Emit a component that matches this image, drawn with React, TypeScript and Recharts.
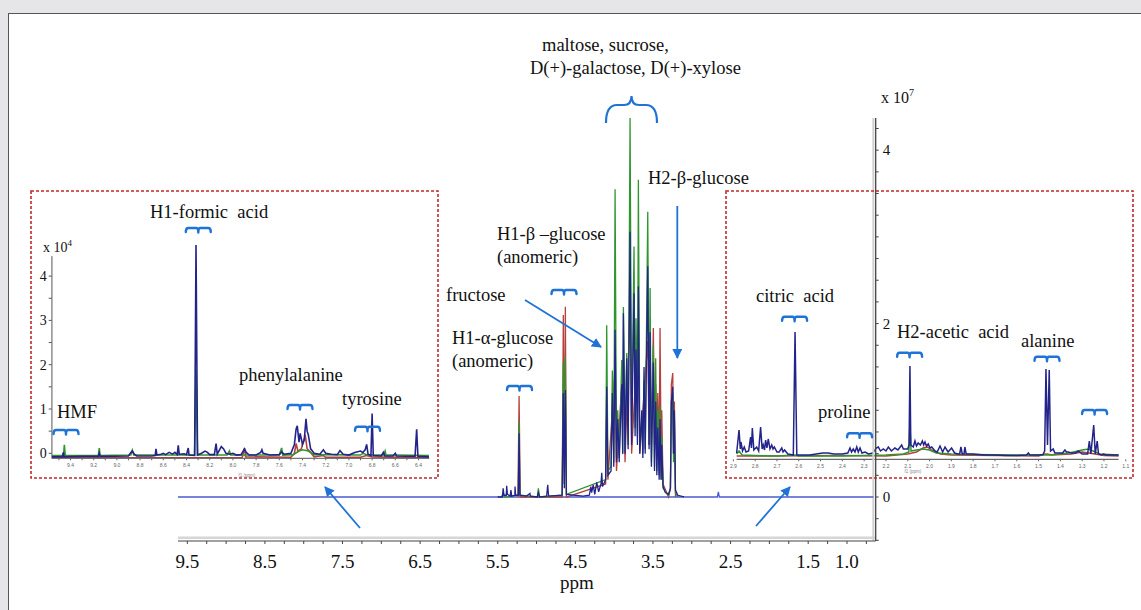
import React from "react";
import { LineChart, Line, XAxis, YAxis, ReferenceLine } from "recharts";

type Pt = [number, number];

// main spectrum: [ppm, intensity x 10^7]
const mainBaseline: Pt[] = [
  [9.62, 0], [5.5, 0], [3.1, 0], [2.67, 0], [2.657, 0.06], [2.645, 0], [0.66, 0],
];

const mainRed: Pt[] = [
  [5.24, 0], [5.225, 1.165], [5.21, 0], [4.67, 0], [4.655, 2.1], [4.642, 0.15], [4.629, 2.195],
  [4.615, 0], [4.11, 0.15], [4.096, 1.0], [4.08, 0.2], [3.988, 1.5], [3.97, 0.3], [3.881, 1.6],
  [3.86, 0.4], [3.795, 2.2], [3.775, 0.5], [3.688, 2.0], [3.67, 0.5], [3.567, 1.8], [3.55, 0.6],
  [3.537, 1.5], [3.52, 0.6], [3.495, 1.95], [3.48, 0.6], [3.465, 1.3], [3.45, 0.5], [3.438, 1.2],
  [3.42, 0.55], [3.409, 1.95], [3.395, 0.5], [3.387, 1.0], [3.37, 0.15], [3.3, 0], [3.275, 0.1],
  [3.263, 1.3], [3.245, 1.43], [3.235, 0.5], [3.224, 1.1], [3.21, 0],
];

const mainGreen: Pt[] = [
  [5.45, 0], [5.43, 0.05], [5.41, 0], [5.235, 0.02], [5.225, 0.87], [5.215, 0.02], [4.99, 0],
  [4.977, 0.1], [4.96, 0], [4.67, 0.02], [4.655, 1.55], [4.642, 0.15], [4.629, 1.62], [4.615, 0.03],
  [4.11, 0.2], [4.096, 1.98], [4.08, 0.3], [4.04, 0.35], [4.023, 1.46], [4.005, 0.4], [3.988, 3.55],
  [3.97, 0.45], [3.954, 1.0], [3.935, 0.45], [3.902, 1.58], [3.89, 0.5], [3.881, 2.19], [3.86, 0.55],
  [3.838, 1.66], [3.82, 0.6], [3.795, 4.37], [3.775, 0.7], [3.744, 2.89], [3.73, 0.8], [3.718, 2.06],
  [3.7, 0.7], [3.688, 3.66], [3.67, 0.6], [3.644, 0.9], [3.63, 0.5], [3.615, 1.35], [3.6, 0.55],
  [3.567, 3.29], [3.55, 0.6], [3.537, 2.41], [3.52, 0.4], [3.495, 1.75], [3.48, 0.35], [3.465, 1.6],
  [3.45, 0.3], [3.438, 1.0], [3.42, 0.25], [3.409, 1.05], [3.395, 0.2], [3.387, 0.7], [3.37, 0.1],
  [3.3, 0.02], [3.275, 0.1], [3.263, 1.1], [3.245, 1.2], [3.235, 0.4], [3.224, 0.9], [3.21, 0.05],
  [3.18, 0],
];

const mainNavy: Pt[] = [
  [5.5, 0], [5.44, 0], [5.43, 0.1], [5.42, 0.02], [5.39, 0.02], [5.385, 0.13], [5.375, 0.03],
  [5.34, 0.01], [5.33, 0.08], [5.32, 0.01], [5.28, 0.02], [5.277, 0.12], [5.27, 0.02], [5.235, 0.02],
  [5.225, 0.735], [5.215, 0.02], [5.13, 0.01], [5.085, 0.04], [5.08, 0.01], [4.99, 0], [4.977, 0.05],
  [4.96, 0], [4.87, 0.01], [4.856, 0.14], [4.845, 0.01], [4.67, 0.02], [4.655, 1.2], [4.642, 0.1],
  [4.629, 1.235], [4.615, 0.03], [4.4, 0.01], [4.32, 0.02], [4.3, 0.12], [4.29, 0.05], [4.27, 0.14],
  [4.25, 0.03], [4.224, 0.17], [4.2, 0.06], [4.17, 0.15], [4.16, 0.28], [4.15, 0.12], [4.11, 0.2],
  [4.096, 1.27], [4.08, 0.25], [4.04, 0.3], [4.023, 1.2], [4.005, 0.35], [3.988, 1.93], [3.97, 0.4],
  [3.954, 0.9], [3.935, 0.4], [3.902, 1.3], [3.89, 0.5], [3.881, 2.12], [3.86, 0.5], [3.838, 1.6],
  [3.82, 0.55], [3.795, 3.06], [3.775, 0.6], [3.744, 2.35], [3.73, 0.7], [3.718, 1.7], [3.7, 0.6],
  [3.688, 2.43], [3.67, 0.5], [3.644, 1.0], [3.63, 0.45], [3.615, 1.5], [3.6, 0.5], [3.567, 2.66],
  [3.55, 0.55], [3.537, 1.9], [3.52, 0.35], [3.495, 1.55], [3.48, 0.3], [3.465, 1.1], [3.45, 0.25],
  [3.438, 0.8], [3.42, 0.2], [3.409, 0.9], [3.395, 0.2], [3.387, 0.6], [3.37, 0.12], [3.34, 0.05],
  [3.3, 0.03], [3.275, 0.1], [3.263, 1.1], [3.245, 1.27], [3.235, 0.5], [3.224, 1.0], [3.21, 0.08],
  [3.18, 0.02], [3.1, 0],
];

const mainXTicks = [
  9.5, 9.25, 9.0, 8.75, 8.5, 8.25, 8.0, 7.75, 7.5, 7.25, 7.0, 6.75, 6.5, 6.25, 6.0, 5.75, 5.5,
  5.25, 5.0, 4.75, 4.5, 4.25, 4.0, 3.75, 3.5, 3.25, 3.0, 2.75, 2.5, 2.25, 2.0, 1.75, 1.5, 1.25,
  1.0, 0.75,
];
const mainXLabels = [9.5, 8.5, 7.5, 6.5, 5.5, 4.5, 3.5, 2.5, 1.5, 1.0];
const mainYTicks = [
  -0.5, -0.25, 0, 0.25, 0.5, 0.75, 1, 1.25, 1.5, 1.75, 2, 2.25, 2.5, 2.75, 3, 3.25, 3.5, 3.75, 4,
  4.25,
];
const mainYLabels = [0, 2, 4];

// left inset (9.5 - 6.3 ppm): intensity x 10^4
const leftNavy: Pt[] = [
  [9.56, -0.08], [9.47, -0.08], [9.462, 0.02], [9.455, -0.08], [9.3, -0.07], [9.16, -0.07],
  [9.152, 0.0], [9.145, -0.07], [8.9, -0.06], [8.88, 0.02], [8.867, 0.05], [8.85, -0.02],
  [8.83, -0.06], [8.7, -0.06], [8.67, -0.05], [8.663, 0.1], [8.655, -0.04], [8.62, -0.02],
  [8.6, 0.0], [8.58, -0.03], [8.55, 0.02], [8.52, -0.02], [8.5, 0.02], [8.48, -0.03], [8.471, 0.18],
  [8.463, -0.02], [8.42, -0.01], [8.4, -0.03], [8.385, 0.12], [8.378, -0.04], [8.33, -0.05],
  [8.318, 4.7], [8.305, -0.04], [8.27, 0.0], [8.24, 0.05], [8.22, 0.02], [8.2, -0.03], [8.16, -0.03],
  [8.145, 0.22], [8.135, -0.02], [8.1, 0.15], [8.08, 0.1], [8.06, 0.0], [8.03, -0.02], [8.0, 0.0],
  [7.97, -0.04], [7.93, -0.03], [7.9, 0.1], [7.885, 0.02], [7.86, -0.04], [7.8, -0.04], [7.76, 0.02],
  [7.75, 0.08], [7.74, 0.0], [7.68, -0.04], [7.6, -0.03], [7.58, 0.03], [7.56, -0.02], [7.5, 0.0],
  [7.47, 0.2], [7.455, 0.55], [7.445, 0.62], [7.43, 0.25], [7.42, 0.45], [7.4, 0.2], [7.385, 0.3],
  [7.37, 0.78], [7.36, 0.5], [7.35, 0.42], [7.33, 0.1], [7.3, 0.0], [7.25, -0.02], [7.22, 0.08],
  [7.2, 0.0], [7.15, -0.02], [7.1, -0.03], [7.077, 0.06], [7.05, -0.02], [7.0, -0.04], [6.95, 0.02],
  [6.9, 0.05], [6.88, 0.02], [6.86, 0.08], [6.847, 0.2], [6.835, -0.02], [6.81, -0.05], [6.8, 0.9],
  [6.79, -0.05], [6.72, -0.06], [6.703, 0.02], [6.69, -0.06], [6.62, -0.06], [6.6, 0.0],
  [6.59, -0.06], [6.43, -0.07], [6.416, 0.54], [6.405, -0.07], [6.31, -0.08],
];

const leftGreen: Pt[] = [
  [9.56, -0.05], [9.46, -0.05], [9.453, 0.19], [9.445, -0.05], [9.16, -0.05], [9.152, 0.12],
  [9.145, -0.05], [8.88, -0.04], [8.867, 0.07], [8.855, -0.04], [8.33, -0.04], [8.318, 1.88],
  [8.305, -0.04], [8.05, -0.04], [8.03, 0.05], [8.02, -0.04], [7.6, -0.04], [7.58, 0.12],
  [7.57, -0.04], [7.48, -0.03], [7.43, 0.05], [7.4, 0.08], [7.35, 0.05], [7.3, -0.03], [6.9, -0.04],
  [6.88, 0.0], [6.84, -0.04], [6.7, -0.04], [6.688, 0.05], [6.68, -0.04], [6.6, -0.04], [6.31, -0.05],
];

const leftRed: Pt[] = [
  [9.56, -0.1], [7.92, -0.1], [7.9, 0.12], [7.89, -0.08], [7.5, -0.09], [7.47, 0.0], [7.455, 0.22],
  [7.44, 0.05], [7.41, 0.1], [7.39, 0.3], [7.375, 0.38], [7.36, 0.1], [7.34, 0.05], [7.3, -0.08],
  [7.22, -0.05], [7.2, -0.09], [6.9, -0.09], [6.85, -0.05], [6.8, -0.08], [6.31, -0.1],
];

const leftXTicks = [
  9.5, 9.4, 9.3, 9.2, 9.1, 9.0, 8.9, 8.8, 8.7, 8.6, 8.5, 8.4, 8.3, 8.2, 8.1, 8.0, 7.9, 7.8, 7.7,
  7.6, 7.5, 7.4, 7.3, 7.2, 7.1, 7.0, 6.9, 6.8, 6.7, 6.6, 6.5, 6.4,
];
const leftXLabels = [9.4, 9.2, 9.0, 8.8, 8.6, 8.4, 8.2, 8.0, 7.8, 7.6, 7.4, 7.2, 7.0, 6.8, 6.6, 6.4];
const leftYTicks = [0, 0.5, 1, 1.5, 2, 2.5, 3, 3.5, 4];
const leftYLabels = [0, 1, 2, 3, 4];

// right inset (2.9 - 1.1 ppm): relative intensity
const rightNavy: Pt[] = [
  [2.885, 0.4], [2.874, 2.7], [2.868, 0.8], [2.865, 1.5], [2.858, 0.6], [2.85, 1.0], [2.842, 0.5],
  [2.83, 0.6], [2.821, 2.0], [2.817, 0.9], [2.813, 2.9], [2.806, 0.7], [2.793, 1.0], [2.784, 0.6],
  [2.775, 3.0], [2.768, 0.8], [2.763, 1.2], [2.757, 0.7], [2.752, 1.7], [2.746, 0.9], [2.74, 1.8],
  [2.732, 0.8], [2.724, 1.2], [2.718, 0.8], [2.712, 1.0], [2.7, 0.5], [2.69, 0.5], [2.678, 0.9],
  [2.672, 0.5], [2.665, 0.7], [2.65, 0.3], [2.625, 0.2], [2.617, 12.5], [2.609, 0.2], [2.58, 0.2],
  [2.55, 0.2], [2.52, 0.3], [2.49, 0.4], [2.465, 0.4], [2.44, 0.3], [2.4, 0.3], [2.375, 0.4],
  [2.365, 0.9], [2.358, 0.5], [2.35, 0.8], [2.342, 0.5], [2.334, 1.0], [2.327, 0.5], [2.319, 0.9],
  [2.31, 0.4], [2.296, 0.5], [2.28, 0.3], [2.26, 0.4], [2.245, 0.9], [2.235, 1.0], [2.225, 0.6],
  [2.212, 0.8], [2.2, 0.6], [2.189, 1.0], [2.175, 0.6], [2.159, 0.9], [2.145, 0.7], [2.128, 1.2],
  [2.12, 0.8], [2.113, 0.8], [2.1, 0.8], [2.094, 1.2], [2.09, 9.1], [2.086, 1.2], [2.075, 1.0],
  [2.067, 1.6], [2.06, 1.1], [2.052, 1.4], [2.042, 1.2], [2.033, 1.6], [2.027, 1.2], [2.021, 1.5],
  [2.014, 1.1], [2.006, 1.3], [1.998, 0.9], [1.99, 1.0], [1.975, 0.6], [1.965, 0.5], [1.952, 1.1],
  [1.94, 0.5], [1.929, 1.0], [1.915, 0.5], [1.899, 0.9], [1.885, 0.4], [1.87, 0.3], [1.862, 0.3],
  [1.856, 1.0], [1.85, 0.3], [1.842, 0.3], [1.838, 1.0], [1.832, 0.3], [1.8, 0.3], [1.75, 0.2],
  [1.7, 0.2], [1.65, 0.15], [1.6, 0.15], [1.555, 0.2], [1.547, 0.4], [1.54, 0.2], [1.5, 0.2],
  [1.48, 0.25], [1.472, 0.6], [1.466, 8.8], [1.459, 1.2], [1.451, 8.7], [1.445, 0.6], [1.433, 0.8],
  [1.425, 0.4], [1.39, 0.4], [1.379, 0.7], [1.372, 0.5], [1.364, 0.5], [1.35, 0.4], [1.341, 0.4],
  [1.33, 0.4], [1.318, 0.6], [1.3, 0.3], [1.275, 0.3], [1.267, 1.6], [1.26, 0.3], [1.247, 3.2],
  [1.24, 0.3], [1.231, 1.6], [1.225, 0.3], [1.21, 0.2], [1.203, 0.3], [1.19, 0.2], [1.133, 0.2],
];

const rightGreen: Pt[] = [
  [2.885, 0.3], [2.874, 0.6], [2.86, 0.2], [2.8, 0.15], [2.7, 0.1], [2.617, 0.2], [2.6, 0.1],
  [2.4, 0.1], [2.3, 0.15], [2.2, 0.2], [2.12, 0.3], [2.095, 0.5], [2.09, 3.4], [2.085, 0.6],
  [2.06, 0.7], [2.03, 0.8], [2.0, 0.7], [1.97, 0.4], [1.9, 0.3], [1.8, 0.25], [1.6, 0.2], [1.45, 0.2],
  [1.36, 0.4], [1.3, 0.7], [1.27, 0.8], [1.25, 0.6], [1.22, 0.3], [1.133, 0.2],
];

const rightRed: Pt[] = [
  [2.885, 0.1], [2.8, 0.1], [2.4, 0.15], [2.2, 0.1], [2.1, 0.3], [2.06, 0.5], [2.03, 0.9],
  [2.01, 1.0], [1.99, 0.7], [1.95, 0.3], [1.9, 0.2], [1.5, 0.1], [1.47, 0.3], [1.46, 0.3],
  [1.44, 0.2], [1.35, 0.3], [1.3, 0.5], [1.27, 0.4], [1.2, 0.15], [1.133, 0.1],
];

const rightXTicks = [2.9, 2.8, 2.7, 2.6, 2.5, 2.4, 2.3, 2.2, 2.1, 2.0, 1.9, 1.8, 1.7, 1.6, 1.5, 1.4, 1.3, 1.2, 1.1];

const SERIF = '"Liberation Serif", "Times New Roman", serif';
const SANS = '"Liberation Sans", Arial, sans-serif';
const NAVY = "#23238c";
const GREEN = "#2f962f";
const RED = "#b8403c";
const BASE_BLUE = "#4a5cd0";
const ACCENT = "#1f73d6";
const BOX_RED = "#c0282d";

const toRows = (pts: Pt[]) => pts.map(([ppm, v]) => ({ ppm, v }));
const isIn = (v: number, list: number[]) => list.some((b) => Math.abs(v - b) < 1e-6);

function MainXTick({ x, y, payload }: any) {
  const v = payload.value as number;
  return (
    <g>
      <line x1={x} y1={y} x2={x} y2={y + 3} stroke="#444" />
      {isIn(v, mainXLabels) && (
        <text x={x} y={y + 27} textAnchor="middle" fontSize={19} fontFamily={SERIF} fill="#111">
          {v.toFixed(1)}
        </text>
      )}
    </g>
  );
}

function MainYTick({ x, y, payload }: any) {
  const v = payload.value as number;
  return (
    <g>
      <line x1={x} y1={y} x2={x + 3} y2={y} stroke="#444" />
      {isIn(v, mainYLabels) && (
        <text x={x + 7} y={y + 5} fontSize={15} fontFamily={SERIF} fill="#111">
          {v}
        </text>
      )}
    </g>
  );
}

function LeftYTick({ x, y, payload }: any) {
  const v = payload.value as number;
  return (
    <g>
      <line x1={x - 3} y1={y} x2={x} y2={y} stroke="#555" />
      {isIn(v, leftYLabels) && (
        <text x={x - 5} y={y + 5} textAnchor="end" fontSize={14} fontFamily={SERIF} fill="#111">
          {v}
        </text>
      )}
    </g>
  );
}

function LeftXTick({ x, y, payload }: any) {
  const v = payload.value as number;
  return (
    <g>
      <line x1={x} y1={y} x2={x} y2={y + 2} stroke="#666" />
      {isIn(v, leftXLabels) && (
        <text x={x} y={y + 9} textAnchor="middle" fontSize={5} fontFamily={SANS} fill="#666">
          {v.toFixed(1)}
        </text>
      )}
    </g>
  );
}

function RightXTick({ x, y, payload }: any) {
  const v = payload.value as number;
  return (
    <g>
      <line x1={x} y1={y} x2={x} y2={y + 2} stroke="#666" />
      <text x={x} y={y + 9} textAnchor="middle" fontSize={5} fontFamily={SANS} fill="#666">
        {v.toFixed(1)}
      </text>
    </g>
  );
}

// small bracket: flat top, ends turned down, short tick down in the middle
function Brace({ cx, y, w = 12.5 }: { cx: number; y: number; w?: number }) {
  const d = `M ${cx - w} ${y + 4} Q ${cx - w} ${y} ${cx - w + 2.5} ${y} L ${cx - 2} ${y} Q ${cx} ${y} ${cx} ${y + 4.5} Q ${cx} ${y} ${cx + 2} ${y} L ${cx + w - 2.5} ${y} Q ${cx + w} ${y} ${cx + w} ${y + 4}`;
  return <path d={d} fill="none" stroke={ACCENT} strokeWidth={2.4} strokeLinecap="round" strokeLinejoin="round" />;
}

const labelStyle = { fontFamily: SERIF, fontSize: 18.5, fill: "#111", whiteSpace: "pre" as const };

function Overlay() {
  return (
    <svg width={1141} height={610} style={{ position: "absolute", left: 0, top: 0, pointerEvents: "none" }}>
      <defs>
        <marker id="arr" viewBox="0 0 10 10" refX="9" refY="5" markerWidth="10" markerHeight="10" markerUnits="userSpaceOnUse" orient="auto">
          <path d="M0,0 L10,5 L0,10 z" fill={ACCENT} />
        </marker>
      </defs>
      {/* inset frames */}
      <rect x={31} y={191} width={407} height={287} fill="none" stroke={BOX_RED} strokeWidth={1.6} strokeDasharray="3 2" />
      <rect x={726} y={191} width={407} height={287} fill="none" stroke={BOX_RED} strokeWidth={1.6} strokeDasharray="3 2" />

      {/* big brace above sugar cluster */}
      <path d="M 606 123 Q 606 105 617 105 L 624 105 Q 631.5 105 631.5 96 Q 631.5 105 639 105 L 646 105 Q 657 105 657 123" fill="none" stroke={ACCENT} strokeWidth={2.2} />

      <Brace cx={519.5} y={386} />
      <Brace cx={564} y={290} />
      <Brace cx={198.3} y={228} />
      <Brace cx={66} y={430} />
      <Brace cx={300} y={405} />
      <Brace cx={367.5} y={426.7} />
      <Brace cx={794.6} y={316.7} />
      <Brace cx={859.6} y={433.3} />
      <Brace cx={909.6} y={352.7} />
      <Brace cx={1047} y={356.7} />
      <Brace cx={1094.6} y={410} />

      {/* arrows */}
      <line x1={525} y1={300} x2={601} y2={347} stroke={ACCENT} strokeWidth={1.8} markerEnd="url(#arr)" />
      <line x1={677.3} y1={206} x2={677.3} y2={358} stroke={ACCENT} strokeWidth={1.8} markerEnd="url(#arr)" />
      <line x1={360} y1={528} x2={325} y2={487} stroke={ACCENT} strokeWidth={1.8} markerEnd="url(#arr)" />
      <line x1={756} y1={526} x2={790} y2={487} stroke={ACCENT} strokeWidth={1.8} markerEnd="url(#arr)" />

      {/* labels */}
      <text x={542} y={51} style={labelStyle}>maltose, sucrose,</text>
      <text x={530} y={74} style={labelStyle}>D(+)-galactose, D(+)-xylose</text>
      <text x={648} y={184} style={labelStyle}>H2-β-glucose</text>
      <text x={497} y={240} style={labelStyle}>H1-β –glucose</text>
      <text x={497} y={263} style={labelStyle}>(anomeric)</text>
      <text x={446} y={301} style={labelStyle}>fructose</text>
      <text x={452} y={344} style={labelStyle}>H1-α-glucose</text>
      <text x={452} y={367} style={labelStyle}>(anomeric)</text>
      <text x={756} y={302} style={labelStyle}>citric  acid</text>
      <text x={897} y={338} style={labelStyle}>H2-acetic  acid</text>
      <text x={1021} y={347} style={labelStyle}>alanine</text>
      <text x={818} y={418} style={labelStyle}>proline</text>
      <text x={150} y={218} style={labelStyle}>H1-formic  acid</text>
      <text x={239} y={381} style={labelStyle}>phenylalanine</text>
      <text x={342} y={405} style={labelStyle}>tyrosine</text>
      <text x={57} y={418} style={labelStyle}>HMF</text>

      <text x={43} y={252} style={{ ...labelStyle, fontSize: 14 }}>
        x 10<tspan dy={-6} fontSize={9}>4</tspan>
      </text>
      <text x={881} y={103} style={{ ...labelStyle, fontSize: 16 }}>
        x 10<tspan dy={-7} fontSize={10}>7</tspan>
      </text>
      <text x={577} y={589} textAnchor="middle" style={{ ...labelStyle, fontSize: 19 }}>ppm</text>

      <text x={247} y={477} textAnchor="middle" fontSize={4.5} fontFamily={SANS} fill="#888">f1 (ppm)</text>
      <text x={913} y={473} textAnchor="middle" fontSize={4.5} fontFamily={SANS} fill="#888">f1 (ppm)</text>
    </svg>
  );
}

const layer = { position: "absolute" as const, left: 0, top: 0 };

export default function App() {
  return (
    <div style={{ position: "fixed", left: 0, top: 0, width: 1141, height: 610, background: "#e6e6e8", overflow: "hidden" }}>
      <div style={{ position: "absolute", left: 8, top: 13, width: 1140, height: 600, background: "#fff", borderTop: "1px solid #555", borderLeft: "1px solid #555" }} />

      {/* left inset */}
      <div style={layer}>
        <LineChart width={1141} height={610} margin={{ top: 240, right: 711.7, bottom: 131.7, left: 31.7 }}>
          <XAxis type="number" dataKey="ppm" domain={[6.307, 9.562]} allowDataOverflow reversed ticks={leftXTicks} interval={0} tick={LeftXTick} tickLine={false} tickSize={0} tickMargin={0} axisLine={{ stroke: "#555" }} height={20} />
          <YAxis type="number" domain={[-0.113, 4.815]} allowDataOverflow ticks={leftYTicks} interval={0} tick={LeftYTick} tickLine={false} tickSize={0} tickMargin={0} axisLine={false} width={20} />
          <ReferenceLine segment={[{ x: 9.56, y: -0.113 }, { x: 9.56, y: 4.45 }]} stroke="#555" />
          <Line data={toRows(leftRed)} dataKey="v" type="linear" stroke={RED} strokeWidth={1.6} dot={false} activeDot={false} isAnimationActive={false} />
          <Line data={toRows(leftGreen)} dataKey="v" type="linear" stroke={GREEN} strokeWidth={1.6} dot={false} activeDot={false} isAnimationActive={false} />
          <Line data={toRows(leftNavy)} dataKey="v" type="linear" stroke={NAVY} strokeWidth={1.6} dot={false} activeDot={false} isAnimationActive={false} />
        </LineChart>
      </div>

      {/* right inset */}
      <div style={layer}>
        <LineChart width={1141} height={610} margin={{ top: 200, right: 8.7, bottom: 130.7, left: 729 }}>
          <XAxis type="number" dataKey="ppm" domain={[1.07, 2.92]} allowDataOverflow reversed ticks={rightXTicks} interval={0} tick={RightXTick} tickLine={false} tickSize={0} tickMargin={0} axisLine={false} height={20} />
          <YAxis type="number" domain={[-0.23, 25.7]} allowDataOverflow hide width={0} />
          <ReferenceLine segment={[{ x: 2.885, y: -0.23 }, { x: 1.133, y: -0.23 }]} stroke="#444" />
          <Line data={toRows(rightRed)} dataKey="v" type="linear" stroke={RED} strokeWidth={1.5} dot={false} activeDot={false} isAnimationActive={false} />
          <Line data={toRows(rightGreen)} dataKey="v" type="linear" stroke={GREEN} strokeWidth={1.5} dot={false} activeDot={false} isAnimationActive={false} />
          <Line data={toRows(rightNavy)} dataKey="v" type="linear" stroke={NAVY} strokeWidth={1.5} dot={false} activeDot={false} isAnimationActive={false} />
        </LineChart>
      </div>

      {/* main spectrum */}
      <div style={layer}>
        <LineChart width={1141} height={610} margin={{ top: 118, right: 225.3, bottom: 39, left: 178 }}>
          <XAxis type="number" dataKey="ppm" domain={[0.63, 9.62]} allowDataOverflow reversed ticks={mainXTicks} interval={0} tick={MainXTick} tickLine={false} tickSize={0} tickMargin={0} axisLine={{ stroke: "#444" }} height={30} />
          <YAxis orientation="right" type="number" domain={[-0.5075, 4.371]} allowDataOverflow ticks={mainYTicks} interval={0} tick={MainYTick} tickLine={false} tickSize={0} tickMargin={0} axisLine={{ stroke: "#444", strokeWidth: 1.3 }} width={40} />
          <ReferenceLine y={-0.47} stroke="#d6d6d6" strokeWidth={2.5} />
          <ReferenceLine x={0.66} stroke="#d0d0d0" strokeWidth={2} />
          <Line data={toRows(mainBaseline)} dataKey="v" type="linear" stroke={BASE_BLUE} strokeWidth={1.3} dot={false} activeDot={false} isAnimationActive={false} />
          <Line data={toRows(mainRed)} dataKey="v" type="linear" stroke={RED} strokeWidth={1.3} dot={false} activeDot={false} isAnimationActive={false} />
          <Line data={toRows(mainGreen)} dataKey="v" type="linear" stroke={GREEN} strokeWidth={1.3} dot={false} activeDot={false} isAnimationActive={false} />
          <Line data={toRows(mainNavy)} dataKey="v" type="linear" stroke={NAVY} strokeWidth={1.3} dot={false} activeDot={false} isAnimationActive={false} />
        </LineChart>
      </div>

      <Overlay />
    </div>
  );
}
